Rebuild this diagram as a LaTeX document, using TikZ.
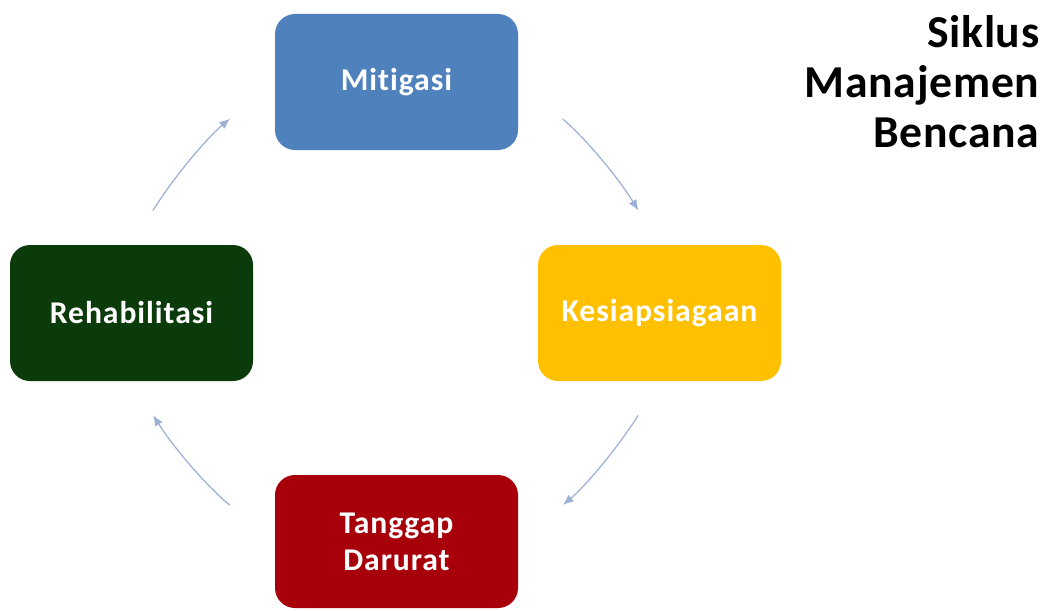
\documentclass[tikz,border=0pt]{standalone}
\usepackage{fontspec}
\setmainfont{Carlito}[Ligatures=NoCommon]
\usetikzlibrary{arrows.meta}
\definecolor{mitblue}{HTML}{4F81BD}
\definecolor{kesyellow}{HTML}{FFC000}
\definecolor{rehgreen}{HTML}{0B3B0B}
\definecolor{tanred}{HTML}{A8000A}
\definecolor{cyclearrow}{HTML}{9DB0D4}
\begin{document}
\begin{tikzpicture}[auto, thick,
    phase node/.style={rounded corners=0.4cm, minimum width=4.86cm, minimum height=2.72cm,
        text=white, align=center, font=\bfseries\fontsize{18}{21}\selectfont\addfontfeature{LetterSpace=3}},
    cycle edge/.style={draw=cyclearrow, line width=0.7pt, -{Latex[length=6pt,width=5pt]}, bend left=9}]
    \useasboundingbox (0,0) rectangle (21.02,12.2);
    \node[phase node, fill=mitblue] (mit) at (7.93,10.56) {Mitigasi};
    \node[phase node, fill=kesyellow] (kes) at (13.19,5.94) {Kesiapsiagaan};
    \node[phase node, fill=rehgreen] (reh) at (2.63,5.94) {Rehabilitasi};
    \node[phase node, fill=tanred, minimum height=2.66cm] (tan) at (7.93,1.37) {Tanggap\\Darurat};
    \node[anchor=north east, align=right, inner sep=0pt,
        font=\bfseries\fontsize{26}{28.5}\selectfont\addfontfeature{LetterSpace=1.5}] (title) at (20.8,11.9) {Siklus\\Manajemen\\Bencana};
    % arrows round the cycle
    \path (mit.east) edge[cycle edge, shorten >=0.8cm, shorten <=1.15cm] (kes.north)
          (kes.south) edge[cycle edge, shorten >=1.15cm, shorten <=0.8cm] (tan.east)
          (tan.west) edge[cycle edge, shorten >=0.8cm, shorten <=1.15cm] (reh.south)
          (reh.north) edge[cycle edge, shorten >=1.15cm, shorten <=0.8cm] (mit.west);
\end{tikzpicture}
\end{document}
